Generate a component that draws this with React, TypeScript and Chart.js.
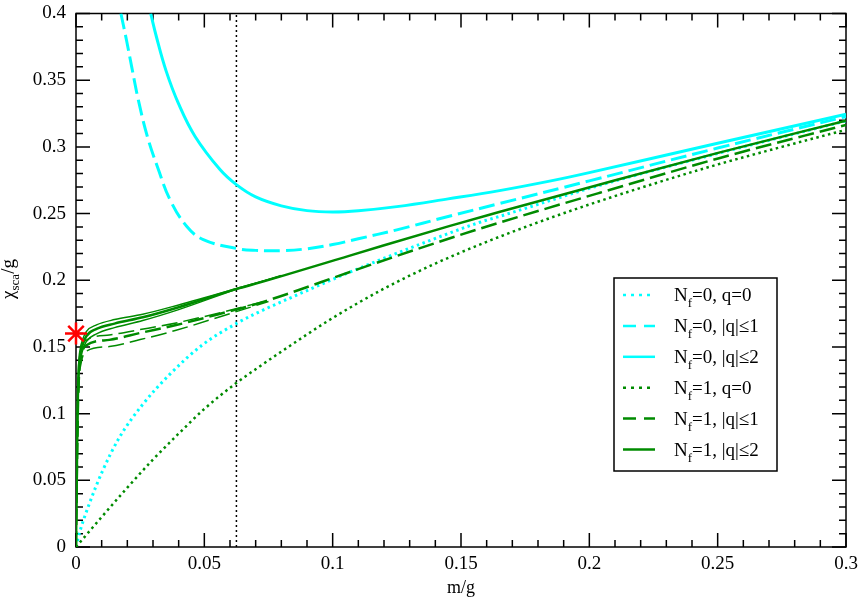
import React, { useEffect, useRef } from "react";
import { Chart, registerables } from "chart.js";

Chart.register(...registerables);

type P = [number, number];

// N_f = 0, q = 0 (cyan dotted)
const nf0q0: P[] = [
  [0, 0], [0.0013, 0.0102], [0.0052, 0.0325], [0.0104, 0.0573], [0.0169, 0.0821],
  [0.026, 0.1069], [0.0364, 0.1292], [0.0493, 0.1516], [0.0626, 0.1677], [0.0701, 0.1751],
  [0.0873, 0.19], [0.1067, 0.2061], [0.1327, 0.226], [0.1574, 0.2435], [0.1652, 0.248],
  [0.2041, 0.2712], [0.2509, 0.2955], [0.3, 0.3195],
];
// N_f = 0, |q| <= 1 (cyan dashed)
const nf0q1: P[] = [
  [0.0175, 0.4], [0.0197, 0.3797], [0.0217, 0.36], [0.0243, 0.335], [0.0278, 0.3078],
  [0.0321, 0.283], [0.0366, 0.2605], [0.0431, 0.2405], [0.0496, 0.2305], [0.0626, 0.2238],
  [0.07, 0.2224], [0.08, 0.2222], [0.09, 0.2236], [0.1, 0.2268], [0.11, 0.2311],
  [0.125, 0.2378], [0.145, 0.2478], [0.165, 0.2575], [0.2, 0.2745], [0.25, 0.2991], [0.3, 0.3227],
];
// N_f = 0, |q| <= 2 (cyan solid)
const nf0q2: P[] = [
  [0.0291, 0.4], [0.0314, 0.382], [0.0351, 0.357], [0.0399, 0.3326], [0.0464, 0.3078],
  [0.0561, 0.283], [0.0626, 0.2715], [0.07, 0.2625], [0.08, 0.2558], [0.09, 0.2522],
  [0.1, 0.2512], [0.11, 0.2521], [0.125, 0.2552], [0.145, 0.261], [0.165, 0.2672],
  [0.185, 0.2745], [0.2, 0.2807], [0.25, 0.3027], [0.3, 0.3244],
];
// N_f = 1, q = 0 (green dotted)
const nf1q0: P[] = [
  [0, 0], [0.01, 0.0225], [0.02, 0.0445], [0.03, 0.0656], [0.04, 0.085], [0.05, 0.1035],
  [0.0626, 0.1232], [0.07, 0.1333], [0.08, 0.1465], [0.1, 0.1717], [0.12, 0.1937],
  [0.14, 0.2125], [0.16, 0.2288], [0.18, 0.2434], [0.2, 0.2568], [0.225, 0.2723],
  [0.25, 0.2868], [0.275, 0.3], [0.3, 0.3128],
];
// N_f = 1, |q| <= 1 (green dashed), main curve and two neighbouring curves
const nf1q1: P[] = [
  [0, 0], [0.0003, 0.05], [0.0007, 0.1], [0.0012, 0.13], [0.002, 0.143], [0.0039, 0.151],
  [0.013, 0.1553], [0.025, 0.1605], [0.039, 0.1664], [0.06, 0.1768], [0.0678, 0.1808],
  [0.08, 0.1882], [0.1067, 0.2062], [0.1457, 0.2315], [0.1652, 0.2433], [0.2041, 0.2656],
  [0.2509, 0.2917], [0.3, 0.3165],
];
const nf1q1Upper: P[] = [
  [0, 0], [0.0003, 0.05], [0.0007, 0.105], [0.0012, 0.135], [0.002, 0.148], [0.0039, 0.155],
  [0.013, 0.159], [0.025, 0.163], [0.039, 0.168], [0.06, 0.1775], [0.075, 0.185],
];
const nf1q1Lower: P[] = [
  [0, 0], [0.0003, 0.05], [0.0007, 0.095], [0.0012, 0.125], [0.002, 0.138], [0.0039, 0.1466],
  [0.013, 0.1503], [0.025, 0.1555], [0.039, 0.1625], [0.06, 0.175], [0.075, 0.184],
];
// N_f = 1, |q| <= 2 (green solid), main curve and two neighbouring curves
const nf1q2: P[] = [
  [0, 0], [0.0003, 0.05], [0.0006, 0.1], [0.001, 0.13], [0.0016, 0.143], [0.0025, 0.151],
  [0.004, 0.158], [0.008, 0.1635], [0.015, 0.1675], [0.026, 0.1722], [0.04, 0.1798],
  [0.0626, 0.1935], [0.0678, 0.1962], [0.1067, 0.2185], [0.1457, 0.2408], [0.1652, 0.2513],
  [0.2041, 0.2718], [0.2509, 0.2959], [0.3, 0.3197],
];
const nf1q2Upper: P[] = [
  [0, 0], [0.0003, 0.05], [0.0006, 0.1], [0.001, 0.135], [0.0016, 0.148], [0.0025, 0.155],
  [0.004, 0.1615], [0.008, 0.1665], [0.015, 0.1705], [0.026, 0.1745], [0.04, 0.1815],
  [0.0626, 0.1938], [0.08, 0.2035],
];
const nf1q2Lower: P[] = [
  [0, 0], [0.0003, 0.05], [0.0006, 0.095], [0.001, 0.125], [0.0016, 0.138], [0.0025, 0.147],
  [0.004, 0.154], [0.008, 0.1598], [0.015, 0.1645], [0.026, 0.1698], [0.04, 0.178],
  [0.0626, 0.1932], [0.08, 0.2032],
];

const vlineX: P[] = [[0.0625, 0], [0.0625, 0.4]];
const starPoint: P[] = [[0, 0.16]];

const legendMain = "N";
const legendSub = "f";
const legendRest = ["=0, q=0", "=0, |q|\u22641", "=0, |q|\u22642", "=1, q=0", "=1, |q|\u22641", "=1, |q|\u22642"];

const CYAN = "#00ffff";
const GREEN = "#008b00";
const DOT = [2.5, 3.5];
const DASH = [16, 6];
const SERIF = '"Liberation Serif", "DejaVu Serif", "Times New Roman", serif';

const legendStyles = [
  { color: CYAN, dash: [3, 5] },
  { color: CYAN, dash: [13, 8] },
  { color: CYAN, dash: [] as number[] },
  { color: GREEN, dash: [3, 5] },
  { color: GREEN, dash: [13, 8] },
  { color: GREEN, dash: [] as number[] },
];

const toXY = (arr: P[]) => arr.map(([x, y]) => ({ x, y }));

const lineDs = (data: P[], color: string, dash: number[], width: number, order: number, smooth = false) => ({
  data: toXY(data),
  borderColor: color,
  backgroundColor: color,
  borderDash: dash,
  borderWidth: width,
  pointRadius: 0,
  pointHoverRadius: 0,
  fill: false,
  cubicInterpolationMode: smooth ? ("default" as const) : ("monotone" as const),
  tension: smooth ? 0.4 : 0,
  order,
});

const fmt = (v: number) => {
  if (Math.abs(v) < 1e-9) return "0";
  return String(parseFloat(v.toFixed(3)));
};

const zeroPad = (s: any) => {
  s.paddingTop = 0;
  s.paddingBottom = 0;
  s.paddingLeft = 0;
  s.paddingRight = 0;
};

const decor = {
  id: "decor",
  beforeDatasetsDraw(chart: any) {
    const { ctx, chartArea: a, scales } = chart;
    const xs = scales.x;
    const ys = scales.y;
    ctx.save();
    ctx.strokeStyle = "#000";
    ctx.lineWidth = 1.5;
    ctx.setLineDash([]);
    ctx.beginPath();
    for (let i = 0; i <= 30; i++) {
      const px = xs.getPixelForValue(i / 100);
      const len = i % 5 === 0 ? 14 : 7;
      ctx.moveTo(px, a.bottom);
      ctx.lineTo(px, a.bottom - len);
      ctx.moveTo(px, a.top);
      ctx.lineTo(px, a.top + len);
    }
    for (let i = 0; i <= 40; i++) {
      const py = ys.getPixelForValue(i / 100);
      const len = i % 5 === 0 ? 14 : 7;
      ctx.moveTo(a.left, py);
      ctx.lineTo(a.left + len, py);
      ctx.moveTo(a.right, py);
      ctx.lineTo(a.right - len, py);
    }
    ctx.stroke();
    ctx.strokeRect(a.left, a.top, a.right - a.left, a.bottom - a.top);
    ctx.restore();
  },
  afterDatasetsDraw(chart: any) {
    const { ctx, chartArea: a } = chart;
    ctx.save();
    ctx.fillStyle = "#000";
    // x title
    ctx.font = `18px ${SERIF}`;
    ctx.textAlign = "center";
    ctx.textBaseline = "middle";
    ctx.fillText("m/g", (a.left + a.right) / 2, 588);

    // y title (rotated, with subscript)
    ctx.save();
    ctx.translate(14, 279);
    ctx.rotate(-Math.PI / 2);
    ctx.textAlign = "left";
    ctx.textBaseline = "alphabetic";
    const big = `19px ${SERIF}`;
    const small = `13px ${SERIF}`;
    ctx.font = big;
    const w1 = ctx.measureText("\u03c7").width;
    const w3 = ctx.measureText("/g").width;
    ctx.font = small;
    const w2 = ctx.measureText("sca").width;
    let x0 = -(w1 + w2 + w3) / 2;
    ctx.font = big;
    ctx.fillText("\u03c7", x0, 0);
    x0 += w1;
    ctx.font = small;
    ctx.fillText("sca", x0, 5);
    x0 += w2;
    ctx.font = big;
    ctx.fillText("/g", x0, 0);
    ctx.restore();

    // legend
    const bx = 614, by = 278, bw = 163, bh = 193;
    ctx.fillStyle = "#fff";
    ctx.fillRect(bx, by, bw, bh);
    ctx.strokeStyle = "#000";
    ctx.lineWidth = 1.5;
    ctx.setLineDash([]);
    ctx.strokeRect(bx, by, bw, bh);
    const base0 = 301;
    const step = 30.9;
    for (let i = 0; i < legendRest.length; i++) {
      const base = base0 + i * step;
      const st = legendStyles[i];
      ctx.strokeStyle = st.color;
      ctx.lineWidth = 2.5;
      ctx.setLineDash(st.dash);
      ctx.beginPath();
      ctx.moveTo(623, base - 6);
      ctx.lineTo(655, base - 6);
      ctx.stroke();
      ctx.setLineDash([]);
      ctx.fillStyle = "#000";
      ctx.textAlign = "left";
      ctx.textBaseline = "alphabetic";
      let tx = 674;
      ctx.font = `19px ${SERIF}`;
      ctx.fillText(legendMain, tx, base);
      tx += ctx.measureText(legendMain).width;
      ctx.font = `13px ${SERIF}`;
      ctx.fillText(legendSub, tx, base + 6);
      tx += ctx.measureText(legendSub).width;
      ctx.font = `19px ${SERIF}`;
      ctx.fillText(legendRest[i], tx, base);
    }
    ctx.restore();
  },
};

export default function App() {
  const ref = useRef<HTMLCanvasElement | null>(null);
  useEffect(() => {
    if (!ref.current) return;
    const chart = new Chart(ref.current, {
      type: "line",
      data: {
        datasets: [
          {
            data: toXY(starPoint),
            showLine: false,
            pointStyle: "star",
            pointRadius: 11,
            pointBorderWidth: 2.5,
            borderColor: "#ff0000",
            backgroundColor: "#ff0000",
            clip: false,
            order: 0,
          } as any,
          lineDs(nf1q2, GREEN, [], 2.5, 1),
          lineDs(nf1q2Upper, GREEN, [], 1.5, 1),
          lineDs(nf1q2Lower, GREEN, [], 1.5, 1),
          lineDs(nf1q1, GREEN, DASH, 2.5, 1),
          lineDs(nf1q1Upper, GREEN, DASH, 1.5, 1),
          lineDs(nf1q1Lower, GREEN, DASH, 1.5, 1),
          lineDs(nf1q0, GREEN, DOT, 2.5, 1),
          lineDs(nf0q2, CYAN, [], 3, 2, true),
          lineDs(nf0q1, CYAN, DASH, 3, 2, true),
          lineDs(nf0q0, CYAN, DOT, 3, 2),
          {
            data: toXY(vlineX),
            borderColor: "#000",
            borderWidth: 1.5,
            borderDash: [2, 3],
            pointRadius: 0,
            fill: false,
            tension: 0,
            order: 3,
          } as any,
        ],
      },
      options: {
        animation: false,
        responsive: false,
        maintainAspectRatio: false,
        events: [],
        layout: { padding: { top: 10, right: 14, left: 0, bottom: 0 } },
        plugins: {
          legend: { display: false },
          tooltip: { enabled: false },
          title: { display: false },
        },
        scales: {
          x: {
            type: "linear",
            min: 0,
            max: 0.3,
            grid: { display: false, drawTicks: false },
            border: { display: false },
            ticks: {
              stepSize: 0.05,
              autoSkip: false,
              maxRotation: 0,
              padding: 6,
              color: "#000",
              font: { family: SERIF, size: 19 },
              callback: (v: any) => fmt(Number(v)),
            },
            afterFit: (s: any) => {
              s.height = 52;
              zeroPad(s);
            },
          },
          y: {
            type: "linear",
            min: 0,
            max: 0.4,
            grid: { display: false, drawTicks: false },
            border: { display: false },
            ticks: {
              stepSize: 0.05,
              autoSkip: false,
              padding: 10,
              color: "#000",
              font: { family: SERIF, size: 19 },
              callback: (v: any) => fmt(Number(v)),
            },
            afterFit: (s: any) => {
              s.width = 76;
              zeroPad(s);
            },
          },
        },
      },
      plugins: [decor],
    });
    return () => chart.destroy();
  }, []);
  return (
    <div style={{ position: "fixed", left: 0, top: 0, width: 860, height: 599, background: "#fff" }}>
      <canvas ref={ref} width={860} height={599} />
    </div>
  );
}
